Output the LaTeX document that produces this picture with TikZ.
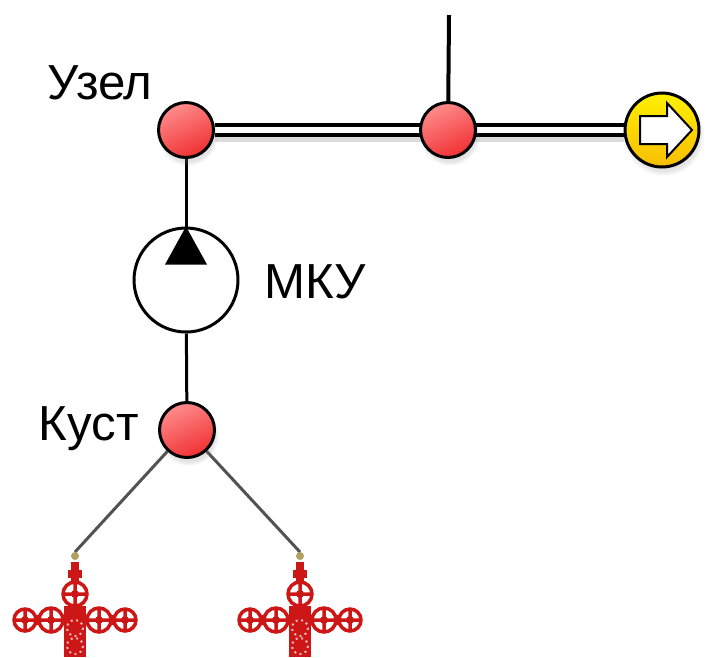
\documentclass[tikz,border=0pt]{standalone}
\usepackage{fontspec}
\setmainfont{Liberation Sans}
\usetikzlibrary{shadows,backgrounds}

\definecolor{nodelight}{RGB}{255,140,140}
\definecolor{nodedark}{RGB}{240,48,50}
\definecolor{outtop}{RGB}{255,240,0}
\definecolor{outbot}{RGB}{248,190,0}
\definecolor{wellred}{RGB}{205,22,22}
\definecolor{capcol}{RGB}{178,160,98}

\tikzset{
    junction/.style={circle,draw,line width=0.06cm,minimum size=1.1cm,inner sep=0pt,
        top color=nodelight,bottom color=nodedark,shading angle=25,
        circular drop shadow={shadow xshift=0.03cm,shadow yshift=-0.1cm,opacity=0.22}},
    outlet/.style={circle,draw,line width=0.06cm,minimum size=1.48cm,inner sep=0pt,
        top color=outtop,bottom color=outbot,
        circular drop shadow={shadow xshift=0.03cm,shadow yshift=-0.1cm,opacity=0.22}},
    pumpsym/.style={circle,draw,line width=0.06cm,minimum size=2.08cm,inner sep=0pt,fill=white},
    lbl/.style={inner sep=0pt,font=\fontsize{28}{32}\selectfont},
    pipe/.style={line width=0.08cm,double=white,double distance=0.12cm},
    pipeshadow/.style={line width=0.14cm,black!14,transform canvas={yshift=-0.16cm}},
    riser/.style={line width=0.06cm},
    branch/.style={line width=0.06cm,black!68},
    wheel/.style={draw=wellred,fill=white,line width=0.07cm},
    wellhead/.pic={
        \coordinate (-top) at (0,-4);
        %% stem, body and side arm
        \fill[wellred] (-4,6) rectangle (4,101);
        \fill[wellred] (-7,14) rectangle (7,22);
        \fill[wellred] (-11,50) rectangle (11,101);
        \fill[wellred] (-60,59) rectangle (60,69);
        %% hand wheels
        \draw[wheel] (0,38) circle (12) (-12,38) -- (12,38) (0,26) -- (0,50);
        \fill[wellred] (0,38) circle (4);
        \foreach \wx/\wr in {-50/11,-24/12,24/12,50/11} {
            \draw[wheel] (\wx,64) circle (\wr)
                (\wx-\wr,64) -- (\wx+\wr,64) (\wx,64-\wr) -- (\wx,64+\wr);
            \fill[wellred] (\wx,64) circle (4);
        }
        %% flanges
        \draw[white!70!wellred,line width=0.04cm,dotted] (0,72) circle (8) (0,90) circle (8);
        \fill[capcol] (0,0) circle (4);
    }
}

\begin{document}
\begin{tikzpicture}[x=0.02cm,y=-0.02cm]
    \useasboundingbox (0,0) rectangle (705,657);
    \clip (0,0) rectangle (705,657);
    %% Nodes
    \node[junction] (uzel) at (186,130) {};
    \node[junction] (tee) at (448,130) {};
    \node[outlet] (out) at (662,130) {};
    \node[pumpsym] (pump) at (186,280) {};
    \node[junction] (kust) at (187,430) {};
    \coordinate (feed) at (449,15);
    %% Wells
    \pic (w1) at (75,556) {wellhead};
    \pic (w2) at (300,556) {wellhead};
    %% Labels
    \node[lbl,anchor=base east] (uzeltxt) at (153,99) {Узел};
    \node[lbl,anchor=base west] (mkutxt) at (264,298) {МКУ};
    \node[lbl,anchor=base east] (kusttxt) at (139,440) {Куст};
    %% Pump arrow and outlet arrow
    \fill (pump.north) -- ++(-21,38) -- ++(42,0) -- cycle;
    \draw[line width=0.04cm,fill=white] ([shift={(-22,-14)}]out.center)
        -- ++(27,0) -- ++(0,-13) -- ++(25,27) -- ++(-25,27) -- ++(0,-13) -- ++(-27,0) -- cycle;
    %% Connectors
    \begin{scope}[on background layer]
        \draw[pipeshadow] (uzel) -- (out);
        \draw[pipe] (uzel) -- (out);
        \draw[line width=0.08cm] (feed) -- (tee);
        \draw[riser] (uzel) -- (pump);
        \draw[riser] (pump) -- (kust);
        \draw[branch] (kust) -- (w1-top);
        \draw[branch] (kust) -- (w2-top);
    \end{scope}
\end{tikzpicture}
\end{document}
